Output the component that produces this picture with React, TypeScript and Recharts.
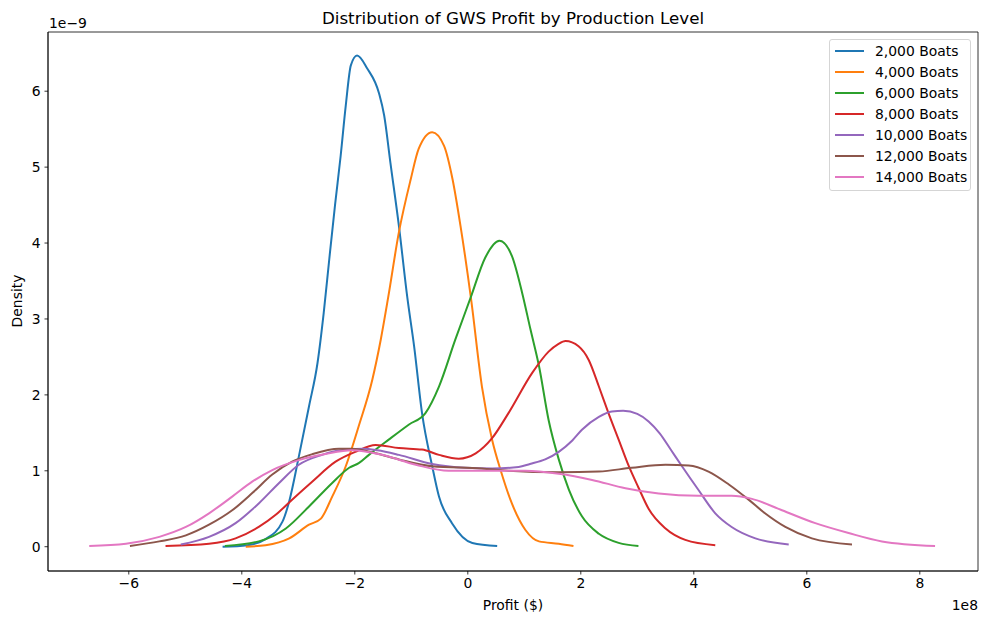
import {
  LineChart,
  Line,
  XAxis,
  YAxis,
  ReferenceArea,
} from "recharts";

// profit in units of 1e8 $, density in units of 1e-9
const boats2000 = [
  [-4.34, 0.0], [-3.9, 0.02], [-3.58, 0.1], [-3.28, 0.33], [-3.16, 0.6], [-2.99, 1.19],
  [-2.81, 1.85], [-2.66, 2.42], [-2.55, 3.08], [-2.45, 3.8], [-2.35, 4.5], [-2.25, 5.15],
  [-2.16, 5.81], [-2.07, 6.34], [-1.96, 6.47], [-1.78, 6.3], [-1.57, 5.97], [-1.48, 5.68],
  [-1.37, 5.06], [-1.22, 4.23], [-1.07, 3.28], [-0.95, 2.64], [-0.81, 1.76], [-0.63, 1.06],
  [-0.51, 0.66], [-0.28, 0.31], [0.08, 0.05], [0.52, 0.01],
];
const boats4000 = [
  [-3.93, 0.0], [-3.58, 0.02], [-3.16, 0.11], [-2.81, 0.29], [-2.6, 0.37], [-2.4, 0.66],
  [-2.16, 1.06], [-1.93, 1.59], [-1.69, 2.2], [-1.54, 2.73], [-1.41, 3.28], [-1.22, 4.14],
  [-1.01, 4.84], [-0.87, 5.24], [-0.63, 5.46], [-0.42, 5.28], [-0.27, 4.84], [-0.13, 4.23],
  [0.06, 3.25], [0.25, 2.11], [0.43, 1.41], [0.58, 1.01], [0.78, 0.57], [1.02, 0.22],
  [1.26, 0.07], [1.61, 0.04], [1.87, 0.01],
];
const boats6000 = [
  [-4.3, 0.01], [-3.7, 0.07], [-3.22, 0.24], [-2.81, 0.53], [-2.4, 0.84], [-2.1, 1.04],
  [-1.93, 1.1], [-1.75, 1.21], [-1.4, 1.41], [-1.04, 1.61], [-0.75, 1.76], [-0.51, 2.11],
  [-0.22, 2.73], [0.05, 3.28], [0.31, 3.81], [0.56, 4.03], [0.78, 3.83], [0.96, 3.35],
  [1.11, 2.86], [1.26, 2.38], [1.43, 1.67], [1.61, 1.15], [1.79, 0.75], [2.02, 0.4],
  [2.32, 0.17], [2.67, 0.05], [3.02, 0.01],
];
const boats8000 = [
  [-5.35, 0.01], [-4.58, 0.04], [-4.11, 0.11], [-3.7, 0.26], [-3.4, 0.42], [-3.11, 0.62],
  [-2.75, 0.86], [-2.34, 1.12], [-1.99, 1.25], [-1.63, 1.34], [-1.22, 1.3], [-0.81, 1.28],
  [-0.51, 1.21], [-0.16, 1.16], [0.14, 1.23], [0.43, 1.43], [0.72, 1.76], [1.14, 2.29],
  [1.43, 2.57], [1.6, 2.67], [1.73, 2.71], [1.96, 2.64], [2.14, 2.46], [2.32, 2.11],
  [2.49, 1.76], [2.67, 1.41], [2.85, 1.06], [3.02, 0.78], [3.2, 0.5], [3.5, 0.24],
  [3.85, 0.09], [4.38, 0.02],
];
const boats10000 = [
  [-5.08, 0.03], [-4.58, 0.13], [-4.11, 0.31], [-3.7, 0.57], [-3.34, 0.84], [-2.99, 1.08],
  [-2.58, 1.21], [-2.16, 1.28], [-1.85, 1.29], [-1.6, 1.27], [-1.22, 1.21], [-0.63, 1.09],
  [-0.04, 1.04], [0.43, 1.03], [0.9, 1.05], [1.1, 1.09], [1.37, 1.15], [1.61, 1.25],
  [1.85, 1.4], [2.02, 1.54], [2.32, 1.71], [2.55, 1.78], [2.75, 1.79], [3.0, 1.75],
  [3.2, 1.65], [3.4, 1.49], [3.6, 1.27], [3.8, 1.05], [4.08, 0.75], [4.38, 0.44],
  [4.67, 0.26], [5.09, 0.11], [5.68, 0.03],
];
const boats12000 = [
  [-5.98, 0.01], [-5.46, 0.07], [-4.99, 0.15], [-4.58, 0.29], [-4.17, 0.48], [-3.81, 0.71],
  [-3.46, 0.95], [-3.11, 1.12], [-2.75, 1.22], [-2.28, 1.29], [-2.05, 1.29], [-1.63, 1.23],
  [-1.22, 1.15], [-0.63, 1.06], [0.25, 1.03], [0.72, 1.0], [1.61, 0.98], [2.32, 0.99],
  [2.9, 1.04], [3.5, 1.08], [3.91, 1.07], [4.26, 0.99], [4.62, 0.82], [4.97, 0.62],
  [5.26, 0.44], [5.62, 0.26], [6.09, 0.11], [6.8, 0.03],
];
const boats14000 = [
  [-6.7, 0.01], [-6.05, 0.04], [-5.46, 0.13], [-4.99, 0.26], [-4.58, 0.44], [-4.17, 0.66],
  [-3.81, 0.86], [-3.46, 1.01], [-2.99, 1.14], [-2.52, 1.22], [-2.05, 1.27], [-1.52, 1.21],
  [-0.92, 1.08], [-0.34, 1.0], [0.55, 1.0], [1.02, 1.0], [1.61, 0.96], [2.2, 0.88],
  [2.79, 0.77], [3.38, 0.7], [4.08, 0.67], [4.67, 0.67], [5.03, 0.63], [5.56, 0.48],
  [6.15, 0.31], [6.74, 0.18], [7.33, 0.07], [8.27, 0.01],
];

const seriesNames = [
  "2,000 Boats", "4,000 Boats", "6,000 Boats", "8,000 Boats",
  "10,000 Boats", "12,000 Boats", "14,000 Boats",
];
const seriesData = [boats2000, boats4000, boats6000, boats8000, boats10000, boats12000, boats14000];
const colors = ["#1f77b4", "#ff7f0e", "#2ca02c", "#d62728", "#9467bd", "#8c564b", "#e377c2"];

const xTicks = [-6, -4, -2, 0, 2, 4, 6, 8];
const yTicks = [0, 1, 2, 3, 4, 5, 6];
const xDomain = [-7.43, 9.03];
const yDomain = [-0.32, 6.78];

const FONT = "DejaVu Sans";

const fmt = (v: number) => (v < 0 ? `\u2212${Math.abs(v)}` : `${v}`);

function LegendBox() {
  return (
    <div
      style={{
        position: "absolute",
        left: 829,
        top: 39,
        width: 142,
        boxSizing: "border-box",
        border: "1px solid #d5d5d5",
        borderRadius: 3,
        background: "rgba(255,255,255,0.8)",
        padding: "0px 0 3px 5px",
        fontFamily: FONT,
        fontSize: 13.9,
        color: "#000",
      }}
    >
      {seriesNames.map((name, i) => (
        <div key={name} style={{ display: "flex", alignItems: "center", height: 21 }}>
          <div style={{ width: 29, height: 2, background: colors[i], marginRight: 11 }} />
          <span>{name}</span>
        </div>
      ))}
    </div>
  );
}

export default function App() {
  return (
    <div style={{ position: "absolute", left: 0, top: 0, width: 988, height: 624, background: "#fff" }}>
      <LineChart
        width={988}
        height={624}
        margin={{ top: 32, right: 10, left: 0, bottom: 0 }}
        style={{ fontFamily: FONT }}
      >
        <XAxis
          type="number"
          dataKey="x"
          domain={xDomain}
          ticks={xTicks}
          allowDataOverflow
          height={53}
          tickFormatter={fmt}
          tick={{ fill: "#000", fontSize: 13.9, fontFamily: FONT }}
          tickSize={3.5}
          tickMargin={4}
          stroke="#000"
          axisLine={{ stroke: "#000", strokeWidth: 0.8 }}
          tickLine={{ stroke: "#000", strokeWidth: 0.8 }}
        />
        <YAxis
          type="number"
          domain={yDomain}
          ticks={yTicks}
          allowDataOverflow
          width={48}
          tickFormatter={fmt}
          tick={{ fill: "#000", fontSize: 13.9, fontFamily: FONT }}
          tickSize={3.5}
          tickMargin={4}
          stroke="#000"
          axisLine={{ stroke: "#000", strokeWidth: 0.8 }}
          tickLine={{ stroke: "#000", strokeWidth: 0.8 }}
        />
        <ReferenceArea
          x1={xDomain[0]}
          x2={xDomain[1]}
          y1={yDomain[0]}
          y2={yDomain[1]}
          fill="none"
          stroke="#000"
          strokeWidth={0.8}
          fillOpacity={0}
        />
        {seriesData.map((pts, i) => (
          <Line
            key={seriesNames[i]}
            name={seriesNames[i]}
            data={pts.map(([x, y]) => ({ x, y }))}
            dataKey="y"
            type="monotone"
            stroke={colors[i]}
            strokeWidth={2}
            dot={false}
            activeDot={false}
            isAnimationActive={false}
          />
        ))}
        <text x={513} y={24} textAnchor="middle" fontSize={16.7} fontFamily={FONT} fill="#000">
          Distribution of GWS Profit by Production Level
        </text>
        <text x={513} y={610} textAnchor="middle" fontSize={13.9} fontFamily={FONT} fill="#000">
          Profit ($)
        </text>
        <text
          x={22}
          y={301}
          textAnchor="middle"
          fontSize={13.9}
          fontFamily={FONT}
          fill="#000"
          transform="rotate(-90 22 301)"
        >
          Density
        </text>
        <text x={49} y={28} fontSize={13.9} fontFamily={FONT} fill="#000">
          1e{"\u2212"}9
        </text>
        <text x={978} y={610} textAnchor="end" fontSize={13.9} fontFamily={FONT} fill="#000">
          1e8
        </text>
      </LineChart>
      <LegendBox />
    </div>
  );
}
